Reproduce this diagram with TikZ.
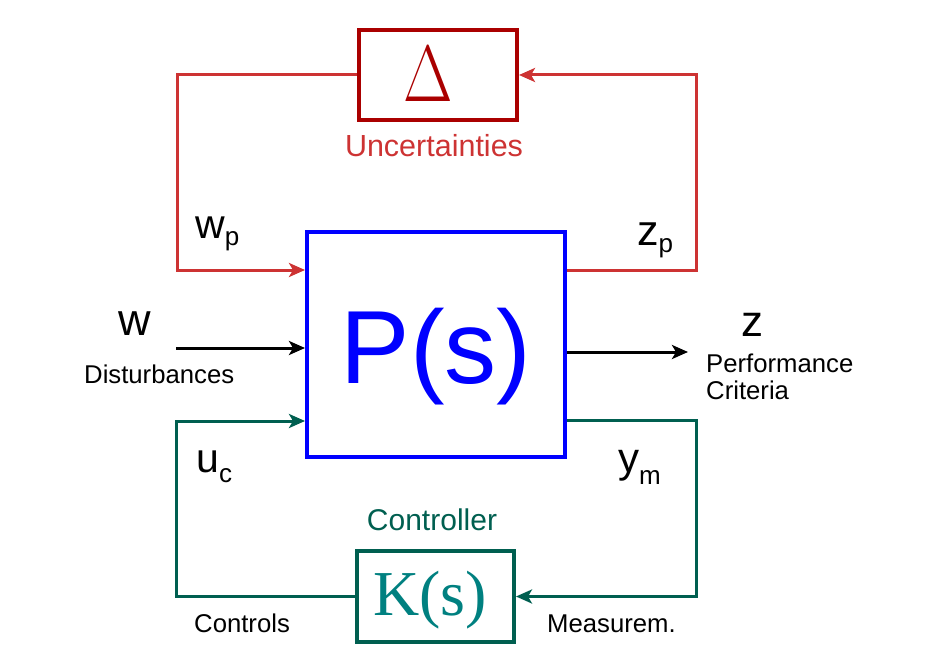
\RequirePackage{fix-cm}
\documentclass[tikz,border=0pt]{standalone}
\usepackage{fontspec}
\setmainfont{Liberation Sans}
\newfontfamily\serifK{Liberation Serif}
\usetikzlibrary{arrows.meta}
\definecolor{pblue}{HTML}{0000FF}
\definecolor{dred}{HTML}{AA0000}
\definecolor{lred}{HTML}{CD3333}
\definecolor{dgreen}{HTML}{005F50}
\definecolor{kteal}{HTML}{008080}
\newcommand{\fs}[1]{\fontsize{#1}{#1}\selectfont}
\tikzset{
  tipstyle/.style={-{Stealth[length=16pt,width=14pt,inset=4pt]}},
  pbox/.style={draw=pblue, line width=4pt, inner sep=0pt, minimum width=258pt, minimum height=225pt},
  dbox/.style={draw=dred, line width=4pt, inner sep=0pt, minimum width=158pt, minimum height=90pt},
  kbox/.style={draw=dgreen, line width=4pt, inner sep=0pt, minimum width=157pt, minimum height=91pt},
  redline/.style={draw=lred, line width=3pt, tipstyle},
  greenline/.style={draw=dgreen, line width=3pt, tipstyle},
  blackline/.style={draw=black, line width=3pt, tipstyle},
  lbl/.style={inner sep=0pt, anchor=base},
  lblw/.style={inner sep=0pt, anchor=base west},
}
\begin{document}
\begin{tikzpicture}[x=1pt,y=-1pt]
\useasboundingbox (0,0) rectangle (930,666);
% boxes
\node[pbox] (P) at (436,344.5) {};
\node[lbl, text=dred, font=\fs{80}] (Dtxt) at (428.5,102) {\scalebox{0.8}[1]{$\Delta$}};
\node[dbox] (D) at (438,75) {};
\node[lbl, text=pblue, font=\fs{104}] (Ptxt) at (436,383) {P(s)};
\node[kbox] (K) at (435.5,596.5) {};
\node[lbl, text=kteal, font=\serifK\fs{64}] (Ktxt) at (430,615) {K(s)};
% captions
\node[lbl, text=lred, font=\fs{30.5}] (unc) at (434,157) {Uncertainties};
\node[lbl, text=dgreen, font=\fs{30}] (ctrl) at (432,530) {Controller};
% coordinates
\coordinate (rl) at (177,270);
\coordinate (rr) at (696,270);
\coordinate (gl) at (176,421);
\coordinate (gr) at (696,420);
\coordinate (win) at (176,348);
\coordinate (zout) at (688,352);
% connectors
\draw[redline] (D.west) -| (rl) -- (P.west |- rl);
\draw[redline] (P.east |- rr) -- (rr) |- (D.east);
\draw[greenline] (K.west) -| (gl) -- (P.west |- gl);
\draw[greenline] (P.east |- gr) -- (gr) |- (K.east);
\draw[blackline] (win) -- (P.west |- win);
\draw[blackline] (P.east |- zout) -- (zout);
% signal labels
\node[lblw, font=\fs{41}] (wp) at (195,239) {w\raisebox{-7pt}{\fs{26}p}};
\node[lblw, font=\fs{43}] (zp) at (637,245) {z\raisebox{-8pt}{\fs{26}p}};
\node[lblw, font=\fs{41}] (uc) at (196,472) {u\raisebox{-10pt}{\fs{26}c}};
\node[lblw, font=\fs{42}] (ym) at (618,472) {y\raisebox{-12pt}{\fs{26}m}};
\node[lblw, font=\fs{45}] (w) at (118,335) {w};
\node[lblw, font=\fs{44}] (z) at (741,336) {z};
\node[lblw, font=\fs{25.7}] (dist) at (84,383) {Disturbances};
\node[lblw, font=\fs{25.7}] (perf) at (706,372) {Performance};
\node[lblw, font=\fs{25.7}] (crit) at (706,399) {Criteria};
\node[lblw, font=\fs{25.7}] (contr) at (194,632) {Controls};
\node[lblw, font=\fs{25.7}] (meas) at (547,632) {Measurem.};
\end{tikzpicture}
\end{document}
